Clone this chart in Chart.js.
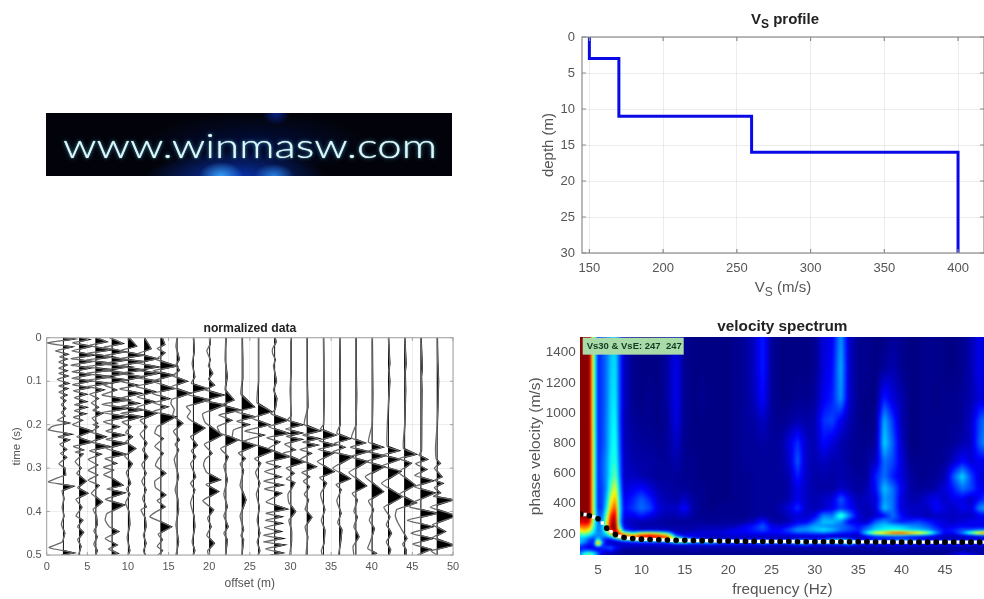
<!DOCTYPE html>
<html><head><meta charset="utf-8">
<script src="https://cdn.jsdelivr.net/npm/chart.js@4"></script>
<style>
html,body{margin:0;padding:0;background:#fff;width:984px;height:599px;overflow:hidden;font-family:'Liberation Sans',Arial,sans-serif}
canvas{position:absolute;filter:blur(.5px)}
#cWiggle{filter:blur(.65px)}
.lbl{position:absolute;white-space:nowrap;transform:translateX(-50%);color:#555;filter:blur(.3px)}
.lbl sub{font-size:.8em;vertical-align:-.35em;line-height:0}
#logo{position:absolute;left:46px;top:113px;width:406px;height:63px;overflow:hidden;background:
 radial-gradient(ellipse 22px 14px at 175px 63px,rgba(60,170,255,.9),rgba(0,60,220,0) 100%),
 radial-gradient(ellipse 20px 12px at 228px 63px,rgba(50,150,255,.8),rgba(0,60,220,0) 100%),
 radial-gradient(ellipse 90px 26px at 190px 64px,rgba(10,60,210,.85),rgba(0,20,120,0) 100%),
 radial-gradient(ellipse 14px 12px at 230px 0px,rgba(10,40,170,.8),rgba(0,20,120,0) 100%),
 radial-gradient(ellipse 110px 30px at 210px 30px,rgba(0,20,90,.6),rgba(0,0,0,0) 100%),#02030a;filter:blur(.5px)}
#logoText{position:absolute;left:17px;top:10px;font:300 34px/44px Lato,'Liberation Sans',sans-serif;color:#dff6f4;transform-origin:0 50%;text-shadow:0 0 1px #bff,0 0 4px rgba(90,190,255,.7);white-space:nowrap}
</style></head><body>
<div id="logo"><span id="logoText"></span></div>
<canvas id="cProfile" width="444" height="300" style="left:540px;top:0"></canvas>
<canvas id="cWiggle" width="450" height="286" style="left:10px;top:314px"></canvas>
<canvas id="cSpectrum" width="458" height="287" style="left:526px;top:312px"></canvas>
<div class="lbl" style="left:785px;top:10px;font-weight:bold;font-size:15px;color:#222">V<sub>S</sub> profile</div>
<div class="lbl" style="left:783px;top:278px;font-size:15px">V<sub>S</sub> (m/s)</div>
<script>
const logoLabel='www.winmasw.com';
// Vs profile
const profileVs=[150,150,170,170,260,260,400,400];
const profileDepth=[0,3,3,11,11,16,16,30];
const profileXTicks=[150,200,250,300,350,400];
const profileYTicks=[0,5,10,15,20,25,30];
// Wiggle traces: offsets (m), and alternating [time(s), amplitude(m)] samples
const traceOffsets=[2,4,6,8,10,12,14,16,18,20,22,24,26,28,30,32,34,36,38,40,42,44,46,48];
const trace02=[0,.1,.003,1.2,.012,-2,.021,1,.03,-.9,.038,.5,.044,-.4,.049,.4,.056,-.5,.063,.4,.07,-.5,.076,.4,.082,-.5,.088,.5,.096,-.7,.105,.6,.111,-.5,.117,.5,.125,-.5,.132,.4,.138,-.3,.145,.3,.154,-.2,.163,.3,.172,-.2,.18,.2,.19,-.7,.196,.6,.204,-1.3,.212,-1.8,.222,.9,.228,-.6,.235,.7,.245,-.4,.257,.4,.266,-.3,.275,.4,.29,-.5,.3,.2,.315,.3,.325,-1,.332,-1.8,.342,1.2,.352,-.1,.37,.1,.39,-.1,.41,.1,.43,-.2,.45,.2,.47,-.1,.483,-1.7,.495,1.2,.5,-.2];
const trace04=[0,.2,.004,1.1,.012,-.8,.02,1.4,.03,-.9,.04,1.6,.048,-1,.055,1.4,.063,-1,.07,1.2,.078,-.9,.085,1.3,.093,-.9,.1,1.3,.108,-.8,.115,1.1,.122,-.7,.13,.8,.138,-.6,.147,.8,.154,-.6,.16,.8,.168,-.6,.175,.7,.183,-.7,.19,.3,.2,-.8,.215,1.5,.228,-.3,.24,1.5,.25,-.7,.258,.4,.263,-.5,.268,.4,.285,-.5,.3,.2,.312,-.3,.33,.8,.345,-.2,.358,1,.372,-.4,.39,.3,.41,-.4,.42,.4,.435,-.2,.448,.5,.465,-.2,.48,.2,.5,-.1];
const trace06=[0,.1,.009,1.3,.018,-.8,.028,1.8,.036,-1,.044,1.9,.052,-1.2,.059,2,.067,-1.3,.074,2,.082,-1.2,.09,1.8,.098,-1.1,.105,1.5,.112,-.9,.12,.9,.13,-.7,.14,.3,.15,-.5,.16,.3,.167,-.3,.174,.8,.185,-.4,.197,.2,.2,-.3,.205,.3,.217,-.5,.228,1.2,.24,-.6,.25,1.6,.26,-.7,.268,.6,.28,-.9,.293,.2,.305,-.9,.316,.2,.328,-.9,.34,.4,.358,-.5,.378,.8,.395,-.3,.41,.1,.43,.2,.445,-.2,.458,.2,.475,-.2,.49,.2,.5,0];
const trace08=[0,-.3,.013,1.3,.022,-1,.032,1.5,.042,-1,.051,1.8,.06,-1.2,.067,2,.075,-1.2,.082,2,.09,-1.2,.097,1.8,.108,-1,.12,.5,.132,-1.2,.143,2,.153,-1.2,.163,1.8,.172,-1.2,.182,1.8,.193,-1,.205,.8,.215,-.7,.224,1.4,.234,-.7,.243,1.7,.255,-.7,.268,1.6,.278,-.8,.289,.5,.298,-1,.305,.1,.315,-1,.325,.2,.339,1.3,.348,-.6,.357,1.5,.372,-.8,.385,1.5,.405,-.6,.42,-.8,.435,-.3,.446,.8,.462,-.8,.477,.6,.486,-.4,.496,.7,.5,0];
const trace10=[0,.1,.019,1,.03,-1,.04,1.8,.048,-1,.055,1.8,.065,-1.2,.074,1.8,.082,-1.1,.09,1.7,.1,-1,.109,1,.118,-1,.128,1.5,.14,-1.1,.151,1.2,.158,-.8,.166,1.6,.174,-.9,.182,1.6,.194,-.7,.205,.3,.218,-.3,.228,.5,.24,-.3,.255,.9,.272,-.4,.29,.5,.31,-.2,.335,.3,.348,-.2,.36,.2,.38,-.3,.4,.1,.43,.2,.46,-.1,.49,.2,.5,0];
const trace12=[0,0,.025,.8,.037,-.8,.048,1.5,.058,-.9,.067,1.6,.075,-.9,.082,1.6,.092,-1,.1,1.6,.112,-1,.124,1.2,.136,-.9,.147,1.1,.16,-.9,.174,1.4,.19,-.5,.205,.3,.222,-.5,.243,.3,.258,-.2,.274,.4,.292,-.3,.312,.2,.33,-.3,.35,.2,.37,-.2,.389,.2,.396,-.4,.415,.1,.435,.2,.455,-.1,.473,.2,.49,-.1,.5,.1];
const trace14=[0,.2,.015,.5,.025,-.4,.035,.5,.05,-.5,.065,1.9,.076,-.9,.086,1.5,.1,-1,.117,1.6,.128,-1,.14,1,.15,-.9,.159,.8,.17,-.9,.182,1.8,.205,-.4,.22,-.7,.232,.3,.25,-.7,.266,.3,.28,-.3,.295,-.6,.312,.6,.33,-.7,.345,-.6,.362,.6,.375,-.4,.389,.5,.4,-.5,.412,-1.3,.435,1.3,.452,-.3,.465,.2,.48,-.4,.49,.2,.5,-.3];
const trace16=[0,.05,.02,-.1,.05,.3,.062,-.1,.075,.3,.088,-.5,.1,1.2,.113,-.7,.128,1.6,.142,-.6,.152,-.7,.165,-.3,.18,-.5,.197,.7,.215,-.4,.235,.3,.245,-.2,.258,.2,.28,-.3,.32,.2,.35,-.2,.37,.1,.396,.2,.43,-.1,.47,.2,.5,-.1];
const trace18=[0,.05,.03,.15,.06,-.1,.09,.2,.105,-.2,.117,1.7,.13,-.8,.143,1.9,.158,-.8,.17,-.3,.182,-.7,.192,-.1,.208,1.4,.228,-.3,.247,.5,.26,-.2,.274,.3,.29,-.3,.32,.3,.335,-.3,.35,.2,.38,-.3,.41,.1,.435,.2,.47,-.1,.49,.2,.5,0];
const trace20=[0,.05,.015,.1,.03,-.3,.05,.1,.065,-.1,.082,.4,.095,-.1,.109,.6,.12,-.5,.132,1.7,.145,-.8,.155,1.8,.175,-.8,.195,-.5,.224,1.5,.245,-.6,.266,.3,.28,-.5,.293,-.7,.31,-.3,.327,1.3,.338,-.4,.354,1.1,.375,-.8,.396,.5,.415,-.2,.435,.2,.455,-.3,.473,.6,.49,-.2,.5,-.1];
const trace22=[0,.05,.05,-.05,.09,.2,.12,-.05,.143,1,.155,-.5,.166,1.7,.178,-.8,.19,.7,.205,-1,.22,-.6,.235,1.5,.255,-.6,.274,.3,.295,-.2,.327,.2,.36,-.2,.389,.2,.41,-.2,.435,.3,.45,-.2,.465,.2,.5,0];
const trace24=[0,.05,.05,.1,.094,.1,.13,-.1,.159,1.5,.17,-.8,.182,1.5,.192,-.6,.2,.8,.212,-1,.23,-1.1,.248,1.6,.265,-.4,.278,.4,.29,-.2,.305,.2,.34,-.2,.373,.5,.41,-.2,.442,.2,.455,-.1,.465,.2,.5,0];
const trace26=[0,.05,.05,.05,.1,.05,.15,-.1,.17,1.6,.185,-.8,.2,1.3,.215,-1.6,.224,.6,.238,-1.7,.26,1.8,.278,-.4,.289,.3,.31,-.3,.335,.2,.36,-.2,.39,.15,.42,-.1,.45,.2,.47,-.1,.49,.2,.5,0];
const trace28=[0,.1,.01,.2,.025,-.2,.036,-.2,.05,.1,.065,-.1,.1,.25,.12,-.1,.14,.3,.165,.1,.175,-.4,.19,1.6,.205,-.7,.22,1.7,.23,-.9,.24,.6,.255,-.7,.274,1.7,.287,-1,.297,.6,.308,-1.2,.32,.7,.33,-1.3,.339,.9,.348,-1.2,.358,.8,.378,-1,.394,1.5,.404,-1,.412,.8,.42,-1.1,.427,.8,.437,-1.2,.446,.7,.455,-1.3,.462,.9,.47,-1.3,.477,1.1,.486,-1.1,.495,.9,.5,-.5];
const trace30=[0,.05,.08,.05,.12,-.05,.18,.05,.19,-.4,.2,1.4,.21,-.6,.219,1.3,.227,-.5,.234,1.3,.245,-.7,.258,.5,.266,-.9,.286,1.6,.3,-.5,.312,.4,.325,-.5,.334,.5,.36,-.3,.38,-.2,.4,.6,.42,-.2,.442,.1,.47,.1,.5,-.1];
const trace32=[0,.02,.1,.05,.16,.12,.2,-.3,.214,1.6,.224,-.5,.232,1.4,.24,-.5,.247,1.2,.257,-.8,.266,.5,.28,-.8,.297,1.1,.31,-.6,.32,.3,.33,-.4,.343,.3,.36,-.3,.373,.2,.395,-.2,.413,.6,.435,-.2,.458,.1,.5,-.1];
const trace34=[0,.05,.05,.08,.15,.1,.2,.05,.21,-.3,.224,1.5,.237,-.5,.247,1.4,.257,-.6,.266,1.2,.285,-.7,.308,1.3,.322,-.4,.335,.4,.36,-.3,.396,.2,.42,-.2,.442,.2,.473,.1,.49,-.2,.5,-.1];
const trace36=[0,.05,.05,.1,.13,.12,.2,.1,.22,-.3,.232,1.3,.243,-.6,.252,.6,.263,-.8,.274,1.6,.3,-.8,.324,1.3,.338,-.4,.35,.2,.375,-.3,.404,.2,.425,-.2,.442,.3,.47,.15,.5,-.1];
const trace38=[0,.05,.05,.05,.13,.12,.2,.05,.23,-.5,.242,1.1,.252,-.6,.262,1.5,.274,-.7,.285,1.4,.31,-.8,.341,1.3,.358,-.4,.373,.2,.4,-.2,.412,.2,.435,-.2,.458,.4,.48,-.3,.5,-.2];
const trace40=[0,.05,.08,.08,.13,.1,.2,.05,.24,-.4,.252,1.3,.262,-.6,.272,1.5,.285,-.7,.297,1.5,.32,-.8,.354,1.4,.375,-.4,.396,.2,.42,-.3,.439,.3,.47,-.2,.485,-.5,.496,.5,.5,.1];
const trace42=[0,.05,.06,.2,.075,.1,.1,.2,.15,.05,.25,-.1,.26,1.3,.27,-.7,.28,1.4,.295,-.8,.308,1.5,.335,-.8,.366,1.7,.39,-.5,.412,.2,.43,-.2,.45,.4,.47,-.2,.488,.3,.5,.1];
const trace44=[0,.05,.06,.2,.08,.1,.12,.15,.2,.05,.255,-.1,.268,1.4,.278,-.6,.289,.8,.31,-.7,.339,1.3,.36,-.6,.38,1.4,.395,-.9,.41,-1.1,.425,-.8,.445,-.2,.462,.3,.475,-.2,.488,.2,.5,.2];
const trace46=[0,.05,.07,.2,.09,.1,.12,.15,.18,.12,.26,.1,.27,-.2,.28,.8,.29,-.6,.303,.7,.317,-.7,.329,1.5,.343,-.8,.357,1.7,.38,-1.1,.39,-1.3,.404,2,.42,-1.6,.435,1.4,.45,-1.2,.462,1.4,.475,-1,.487,1.2,.5,-.4];
const trace48=[0,.05,.05,.1,.1,.2,.2,.05,.25,-.15,.28,-.05,.289,.4,.3,-.3,.32,.6,.328,-.3,.335,.7,.345,-.3,.357,.4,.365,-.4,.373,2,.39,-.8,.41,2.3,.43,-.5,.446,1,.46,-.5,.477,2,.49,-.7,.5,0];
const traces=[trace02,trace04,trace06,trace08,trace10,trace12,trace14,trace16,trace18,trace20,trace22,trace24,trace26,trace28,trace30,trace32,trace34,trace36,trace38,trace40,trace42,trace44,trace46,trace48];
// Velocity spectrum: frequency columns, velocity rows, intensity percent
const specFreq=[3,3.5,4,4.5,5,5.5,6,6.5,7,7.5,8,9,10,11,12,13,14,15,16,17,18,19,20,21,22,23,24,25,26,27,28,29,30,31,32,33,34,35,36,37,38,39,40,41,42,43,44,45,46,47,48,49,50];
const specVel=[1500,1300,1100,950,800,680,580,500,430,370,320,280,250,225,205,190,175,160,145,130,110,90,70];
const specValues=[
[99,99,99,52,18,22,27,34,36,22,10,5,4,4,4,7,12,5,4,4,4,4,4,5,6,10,18,6,4,4,4,4,5,12,14,30,10,5,5,4,4,6,5,4,4,5,5,4,4,5,8,14,8],
[99,99,99,52,18,22,27,35,37,22,10,5,4,4,4,7,14,5,4,4,4,4,4,5,6,10,18,6,4,4,4,4,5,12,16,32,10,5,5,4,6,8,5,4,4,5,5,4,4,5,8,14,8],
[99,99,99,52,18,22,27,36,38,22,10,5,4,5,4,7,14,5,4,5,4,4,4,5,6,9,16,6,4,4,5,5,6,14,18,30,10,5,4,4,18,12,8,4,4,5,4,5,5,6,8,12,10],
[99,99,99,52,18,22,28,37,40,22,9,6,5,5,4,6,13,5,4,4,4,4,4,5,6,7,10,6,5,6,8,7,8,20,22,14,8,5,4,5,32,20,8,4,4,5,5,5,5,6,10,22,30],
[99,99,99,54,18,22,28,38,42,24,9,7,6,6,5,6,10,5,4,4,4,4,4,5,6,6,7,6,6,12,20,10,8,16,12,8,6,5,5,6,36,24,10,4,4,5,5,5,6,8,10,24,32],
[99,99,99,54,18,24,30,40,44,26,10,8,7,7,6,6,8,5,5,4,4,4,4,5,6,6,6,6,6,10,24,10,8,10,8,8,6,5,6,10,26,22,12,5,5,5,5,6,10,16,12,14,14],
[99,99,99,54,18,24,30,42,50,28,10,10,8,7,6,6,6,5,5,4,4,4,4,5,5,6,6,6,6,8,18,10,7,8,7,8,7,6,6,18,26,18,12,7,5,5,6,8,24,36,22,12,12],
[99,99,99,54,18,22,30,50,62,32,12,14,16,12,8,7,6,6,5,5,4,4,4,5,5,6,6,6,6,7,14,10,7,7,7,10,8,6,8,16,34,26,14,7,6,6,8,12,18,26,22,14,14],
[99,99,99,54,18,22,34,62,72,36,14,18,24,18,10,8,7,10,6,5,4,4,4,5,5,6,6,6,6,8,14,10,8,10,12,24,14,8,10,12,30,26,12,8,8,12,14,10,14,14,10,16,24],
[99,99,99,54,18,22,40,72,82,38,16,20,26,22,12,10,10,16,7,5,4,5,5,5,5,6,6,6,8,12,20,10,8,10,14,20,16,10,8,12,34,26,12,10,10,10,16,12,10,14,12,28,32],
[99,99,99,56,22,26,52,85,92,36,14,14,18,14,10,8,8,10,6,5,5,5,5,5,5,6,7,6,6,10,12,10,14,28,26,46,28,12,8,10,16,26,16,10,10,8,10,10,10,10,10,14,16],
[90,92,90,50,24,30,60,92,97,34,12,9,8,8,7,6,6,6,6,6,5,6,6,6,7,10,18,8,7,8,14,14,24,34,34,28,14,12,10,24,30,22,18,20,22,18,14,12,10,12,14,14,14],
[78,80,76,46,26,32,62,96,99,42,14,10,8,8,8,7,7,7,7,8,8,8,8,10,14,18,24,14,12,16,22,26,32,30,28,26,22,16,22,32,36,36,34,30,28,24,18,12,14,16,14,14,16],
[66,70,62,40,26,32,58,92,98,60,22,12,10,10,10,9,8,8,8,10,10,10,12,14,16,18,22,16,16,22,30,30,34,38,34,26,22,18,28,36,40,42,40,36,34,30,22,16,18,22,24,26,28],
[52,56,48,36,28,30,42,70,92,82,56,42,58,62,55,40,12,10,12,12,12,12,14,14,14,16,16,14,16,18,22,22,24,26,22,18,16,14,40,66,74,88,90,80,72,58,30,14,16,28,52,78,86],
[42,44,38,30,28,30,34,48,72,88,84,72,84,88,82,70,22,14,14,12,10,10,12,12,12,12,12,12,12,12,14,14,14,14,12,12,12,10,20,28,32,34,34,30,28,24,16,10,10,14,18,24,26],
[36,34,28,24,32,26,24,30,44,62,70,78,86,88,88,82,42,22,14,10,8,8,8,8,8,8,8,8,8,8,8,10,10,10,12,10,10,8,12,16,16,16,16,14,12,10,10,8,8,8,10,10,12],
[34,30,22,18,46,22,14,14,20,28,36,44,48,50,48,58,72,56,38,30,26,22,18,16,16,18,20,16,14,16,26,24,18,24,36,40,30,14,14,20,18,24,30,26,20,16,12,12,12,12,12,14,16],
[34,28,20,16,82,30,12,10,10,12,16,18,20,22,22,24,46,50,30,36,42,30,26,30,28,26,44,34,32,36,50,42,36,46,46,50,56,36,30,34,28,26,30,30,28,24,28,26,24,24,26,32,30],
[26,20,16,18,70,22,14,12,10,10,10,12,12,12,12,12,14,14,14,14,16,14,14,12,12,14,16,14,12,14,18,22,14,14,16,18,24,12,12,12,14,14,14,14,12,12,12,12,12,12,12,12,12],
[18,16,12,14,16,18,22,24,16,12,10,8,8,8,8,8,8,8,8,8,8,8,8,8,8,8,8,8,8,8,8,8,8,8,8,8,8,8,8,8,8,8,8,8,8,8,8,8,8,8,8,8,8],
[20,24,24,20,16,18,14,18,12,8,6,6,6,6,6,6,6,6,8,6,6,6,6,6,6,6,6,6,6,6,6,6,6,6,6,6,6,6,6,6,6,8,8,6,6,6,6,6,6,6,6,8,8],
[30,44,48,40,24,10,8,8,6,6,5,5,5,5,5,5,5,5,5,5,5,5,5,5,5,5,5,5,5,5,5,5,5,5,5,5,5,5,5,5,5,5,5,5,5,5,5,5,10,14,12,8,6]
];
const dispFreq=[3,4,5,6,7,8,9,10,11,12,13,14,15,16,17,18,19,20,21,22,23,24,25,26,27,28,29,30,31,32,33,34,35,36,37,38,39,40,41,42,43,44,45,46,47,48,49,50];
const dispVel=[333,320,300,238,195,176,169,165,163,161,159,158,157,156,155,154,153,152,151,150,150,149,149,149,149,148,148,148,148,148,148,147,147,147,146,146,145,145,145,145,145,145,145,145,145,145,145,145];
const modelFreq=[3.5,4.5,5.5,6.5,7.5,8.5,9.5,10.5,11.5,12.5,13.5,14.5,15.5,16.5,17.5,18.5,19.5,20.5,21.5,22.5,23.5,24.5,25.5,26.5,27.5,28.5,29.5,30.5,31.5,32.5,33.5,34.5,35.5,36.5,37.5,38.5,39.5,40.5,41.5,42.5,43.5,44.5,45.5,46.5,47.5,48.5,49.5];
const modelVel=[328,312,272,215,184,172,167,164,162,160,158,157,156,155,155,154,153,152,151,150,150,149,149,149,149,148,148,148,148,148,148,147,147,147,146,146,145,145,145,145,145,145,145,145,145,145,145];
const specXTicks=[5,10,15,20,25,30,35,40,45];
const specYTicks=[200,400,600,800,1000,1200,1400];
const infoLabel='Vs30 & VsE: 247  247';

const FF="'Liberation Sans',Arial,sans-serif";
const fixW=w=>s=>{s.width=w;s.paddingTop=0;s.paddingBottom=0;s.paddingLeft=0;s.paddingRight=0};
const fixH=h=>s=>{s.height=h;s.paddingTop=0;s.paddingBottom=0;s.paddingLeft=0;s.paddingRight=0};
const setTicks=arr=>s=>{s.ticks=arr.map(value=>({value}))};
function axis(o){
 return Object.assign({type:'linear',grid:{color:'rgba(0,0,0,.07)',lineWidth:1,drawTicks:false},border:{display:false},
  ticks:{color:'#555',font:{family:FF,size:o.size},padding:o.pad||5,autoSkip:false,maxRotation:0,callback:v=>String(v)}},o.extra);
}
const framePlugin=(color,lw,tickLen)=>({id:'frame',afterDatasetsDraw(ch){
 const {ctx,chartArea:a,scales:{x,y}}=ch;ctx.save();ctx.strokeStyle=color;ctx.lineWidth=lw;
 ctx.strokeRect(a.left,a.top,a.right-a.left,a.bottom-a.top);
 ctx.beginPath();
 x.ticks.forEach(t=>{const p=x.getPixelForValue(t.value);ctx.moveTo(p,a.bottom);ctx.lineTo(p,a.bottom-tickLen);ctx.moveTo(p,a.top);ctx.lineTo(p,a.top+tickLen)});
 y.ticks.forEach(t=>{const p=y.getPixelForValue(t.value);ctx.moveTo(a.left,p);ctx.lineTo(a.left+tickLen,p);ctx.moveTo(a.right,p);ctx.lineTo(a.right-tickLen,p)});
 ctx.stroke();ctx.restore();}});

// Logo
const lt=document.getElementById('logoText');lt.textContent=logoLabel;
lt.style.transform='scaleX('+(374/lt.getBoundingClientRect().width)+')';

// Profile
new Chart(document.getElementById('cProfile'),{type:'scatter',
 data:{datasets:[{label:'Vs',data:profileVs.map((v,i)=>({x:v,y:profileDepth[i]})),showLine:true,pointRadius:0,borderColor:'#0a0ae6',borderWidth:3,borderJoinStyle:'miter',tension:0}]},
 plugins:[framePlugin('#8c8c8c',1.2,4)],
 options:{responsive:false,animation:false,devicePixelRatio:1,layout:{autoPadding:false,padding:{top:37}},plugins:{legend:{display:false},tooltip:{enabled:false}},
 scales:{
  x:axis({size:13,pad:8,extra:{min:145,max:417.6,afterBuildTicks:setTicks(profileXTicks),afterFit:fixH(47)}}),
  y:axis({size:13,pad:7,extra:{reverse:true,min:0,max:30,afterBuildTicks:setTicks(profileYTicks),afterFit:fixW(42),
   title:{display:true,text:'depth (m)',color:'#555',font:{family:FF,size:15},padding:0}}})
 }}});

// Wiggle
const wiggleFill={id:'wiggleFill',beforeDatasetsDraw(ch){
 const {ctx,chartArea:a,scales:{x}}=ch;
 traceOffsets.forEach((off,i)=>{
  const pts=ch.getDatasetMeta(i).data,b=x.getPixelForValue(off);
  ctx.save();ctx.beginPath();ctx.rect(b,a.top,a.right-b,a.bottom-a.top);ctx.clip();
  ctx.beginPath();ctx.moveTo(b,pts[0].y);pts.forEach(p=>ctx.lineTo(p.x,p.y));ctx.lineTo(b,pts[pts.length-1].y);ctx.closePath();
  ctx.fillStyle='#000';ctx.fill();ctx.strokeStyle='#000';ctx.lineWidth=1.8;ctx.stroke();ctx.restore();
 });}};
const wiggleSets=traces.map((tr,i)=>{const d=[];for(let k=0;k<tr.length;k+=2)d.push({x:traceOffsets[i]+tr[k+1],y:tr[k]});
 return {label:'offset '+traceOffsets[i],data:d,showLine:true,pointRadius:0,borderColor:'#6a6a6a',borderWidth:1.3,tension:.15};});
new Chart(document.getElementById('cWiggle'),{type:'scatter',data:{datasets:wiggleSets},
 plugins:[wiggleFill,framePlugin('#a0a0a0',1,3)],
 options:{responsive:false,animation:false,devicePixelRatio:1,layout:{autoPadding:false,padding:{right:7}},
 plugins:{legend:{display:false},tooltip:{enabled:false},
  title:{display:true,text:'normalized data',fullSize:false,color:'#222',font:{family:FF,size:12.2,weight:'bold'},padding:{top:7.7,bottom:1.4}}},
 scales:{
  x:axis({size:11,pad:4,extra:{min:0,max:50,ticks:{color:'#555',font:{family:FF,size:11},padding:5,autoSkip:false,maxRotation:0,stepSize:5,callback:v=>String(v)},afterFit:fixH(45),
   title:{display:true,text:'offset (m)',color:'#555',font:{family:FF,size:12},padding:{top:0,bottom:9}}}}),
  y:axis({size:11,pad:5,extra:{reverse:true,min:0,max:.5,ticks:{color:'#555',font:{family:FF,size:11},padding:5,autoSkip:false,stepSize:.1,callback:v=>String(+v.toFixed(1))},afterFit:fixW(36.7),
   title:{display:true,text:'time (s)',color:'#555',font:{family:FF,size:11.5},padding:0}}})
 }}});

// Spectrum
function jet(v){const c=t=>Math.round(255*Math.max(0,Math.min(1,1.5-Math.abs(4*v-t))));return [c(3),c(2),c(1)];}
function bracket(arr,val){
 const asc=arr[0]<arr[arr.length-1];
 if(asc?val<=arr[0]:val>=arr[0])return [0,0,0];
 for(let i=1;i<arr.length;i++){if(asc?val<=arr[i]:val>=arr[i])return [i-1,i,(val-arr[i-1])/(arr[i]-arr[i-1])];}
 return [arr.length-1,arr.length-1,0];
}
const heatPlugin={id:'heat',beforeDatasetsDraw(ch){
 const {ctx,chartArea:a,scales:{x,y}}=ch;
 const L=Math.floor(a.left),T=Math.floor(a.top),W=Math.ceil(a.right-L),H=Math.ceil(a.bottom-T);
 const off=document.createElement('canvas');off.width=W;off.height=H;const o=off.getContext('2d');const img=o.createImageData(W,H);
 for(let py=0;py<H;py++){const rv=bracket(specVel,y.getValueForPixel(T+py+.5));
  for(let px=0;px<W;px++){const rf=bracket(specFreq,x.getValueForPixel(L+px+.5));
   const A=specValues[rv[0]][rf[0]],B=specValues[rv[0]][rf[1]],C=specValues[rv[1]][rf[0]],D=specValues[rv[1]][rf[1]];
   const val=(A*(1-rf[2])+B*rf[2])*(1-rv[2])+(C*(1-rf[2])+D*rf[2])*rv[2];
   const col=jet(Math.max(0,(val-3.5)/96.5));const k=4*(py*W+px);
   img.data[k]=col[0];img.data[k+1]=col[1];img.data[k+2]=col[2];img.data[k+3]=255;}}
 o.putImageData(img,0,0);
 ctx.save();ctx.drawImage(off,L,T);ctx.beginPath();ctx.rect(a.left,a.top,a.right-a.left,a.bottom-a.top);ctx.clip();
 ctx.filter='blur(.8px)';ctx.drawImage(off,L,T);ctx.filter='none';ctx.restore();
},afterDatasetsDraw(ch){
 const {ctx,chartArea:a}=ch;ctx.save();ctx.fillStyle='#a9dba9';ctx.fillRect(a.left+2,a.top,101,17);
 ctx.fillStyle='#123a22';ctx.font='bold 9.5px '+FF;ctx.textBaseline='middle';ctx.fillText(infoLabel,a.left+6,a.top+9);ctx.restore();
}};
const heatCells=[];specVel.forEach((v,j)=>specFreq.forEach((f,i)=>heatCells.push({x:f,y:v,v:specValues[j][i]})));
new Chart(document.getElementById('cSpectrum'),{type:'scatter',
 data:{datasets:[
  {label:'picked',data:dispFreq.map((f,i)=>({x:f,y:dispVel[i]})),showLine:false,pointRadius:2.8,pointBackgroundColor:'#000',pointBorderWidth:0},
  {label:'model',data:modelFreq.map((f,i)=>({x:f,y:modelVel[i]})),showLine:false,pointStyle:'rect',pointRadius:2.4,pointBackgroundColor:'#fff',pointBorderWidth:0},
  {label:'spectrum',data:heatCells,pointRadius:0,showLine:false}
 ]},
 plugins:[heatPlugin],
 options:{responsive:false,animation:false,devicePixelRatio:1,layout:{autoPadding:false},
 plugins:{legend:{display:false},tooltip:{enabled:false},
  title:{display:true,text:'velocity spectrum',fullSize:false,color:'#222',font:{family:FF,size:15.3,weight:'bold'},padding:{top:5.8,bottom:1.5}}},
 scales:{
  x:axis({size:13.5,pad:7,extra:{min:3,max:49.5,afterBuildTicks:setTicks(specXTicks),grid:{display:false,drawTicks:false},afterFit:fixH(44),
   title:{display:true,text:'frequency (Hz)',color:'#555',font:{family:FF,size:15.3},padding:{top:0,bottom:0}}}}),
  y:axis({size:13.5,pad:5,extra:{min:60,max:1500,afterBuildTicks:setTicks(specYTicks),grid:{display:false,drawTicks:false},afterFit:fixW(54.7),
   title:{display:true,text:'phase velocity (m/s)',color:'#555',font:{family:FF,size:15.5},padding:0}}})
 }}});
</script>
</body></html>
